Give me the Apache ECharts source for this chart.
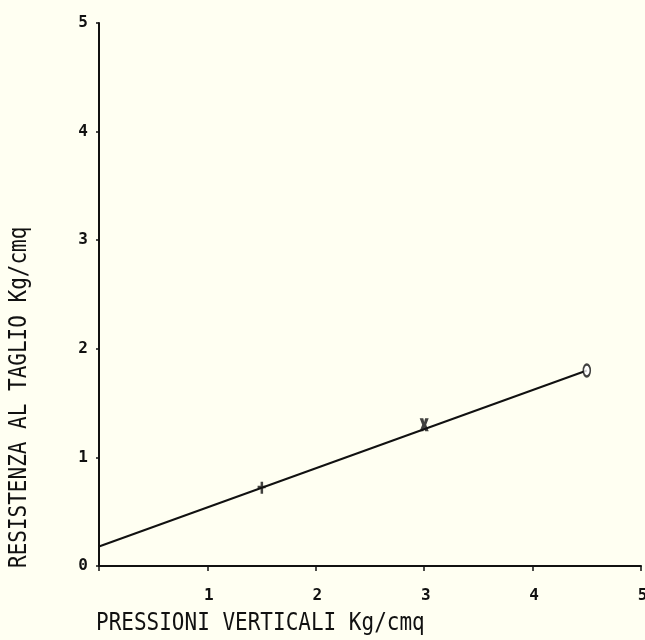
<!DOCTYPE html>
<html>
<head>
<meta charset="utf-8">
<script src="https://cdn.jsdelivr.net/npm/echarts@6/dist/echarts.min.js"></script>
<style>
  html, body { margin: 0; padding: 0; background: #fffff2; }
  #chart { width: 645px; height: 640px; }
</style>
</head>
<body>
<div id="chart"></div>
<script>
// Shear test: measured points and fitted failure envelope
const xTicks = [0, 1, 2, 3, 4, 5];
const yTicks = [0, 1, 2, 3, 4, 5];
const pointPlus = [[1.5, 0.72]];
const pointCross = [[3.0, 1.30]];
const pointCircle = [[4.5, 1.80]];
const fitLine = [[0, 0.18], [4.5, 1.80]];
const xTitle = 'PRESSIONI VERTICALI Kg/cmq';
const yTitle = 'RESISTENZA AL TAGLIO Kg/cmq';

const INK = '#111';
const PAPER = '#fffff2';
const FONT = '"DejaVu Sans Mono", "Liberation Mono", monospace';

// plotter-style marker glyphs
const plusPath = 'path://M3,0 L5.5,0 L5.5,4 L8,4 L8,6.5 L5.5,6.5 L5.5,12 L3,12 L3,6.5 L0,6.5 L0,4 L3,4 Z';
const crossPath = 'path://M0,0 L3.2,0 L4,3.5 L4.8,0 L8,0 L5.8,6 L8,12 L4.8,12 L4,8.5 L3.2,12 L0,12 L2.2,6 Z';

const chart = echarts.init(document.getElementById('chart'));
chart.setOption({
  backgroundColor: PAPER,
  animation: false,
  grid: { left: 99, right: 4, top: 23, bottom: 74, outerBoundsMode: 'none', containLabel: false },
  xAxis: {
    type: 'value', min: 0, max: 5, interval: 1,
    axisLine: { show: true, lineStyle: { color: INK, width: 2 } },
    axisTick: { show: true, inside: false, length: 5, lineStyle: { color: INK, width: 1.5 } },
    splitLine: { show: false },
    axisLabel: {
      margin: 22, color: INK, fontFamily: FONT, fontWeight: 'bold', fontSize: 16,
      padding: [0, 0, 0, 3],
      hideOverlap: false, showMaxLabel: true,
      formatter: v => (v === 0 ? '' : String(v))
    }
  },
  yAxis: {
    type: 'value', min: 0, max: 5, interval: 1,
    axisLine: { show: true, lineStyle: { color: INK, width: 2 } },
    axisTick: { show: true, inside: false, length: 3, lineStyle: { color: INK, width: 1.5 } },
    splitLine: { show: false },
    axisLabel: {
      margin: 11, color: INK, fontFamily: FONT, fontWeight: 'bold', fontSize: 16,
      padding: [0, 0, 10, 0],
      hideOverlap: false, showMaxLabel: true,
      formatter: v => String(v)
    }
  },
  graphic: [
    {
      type: 'text', x: 96, y: 612, scaleY: 1.15,
      style: { text: xTitle, fill: INK, font: '21px ' + FONT, textVerticalAlign: 'top' }
    },
    {
      type: 'text', x: 8, y: 568, rotation: Math.PI / 2, scaleY: 1.15,
      style: { text: yTitle, fill: INK, font: '21px ' + FONT, textVerticalAlign: 'top' }
    }
  ],
  series: [
    {
      type: 'line', data: fitLine, symbol: 'none',
      lineStyle: { color: INK, width: 2 }, z: 2
    },
    {
      type: 'scatter', data: pointPlus, symbol: plusPath, symbolSize: [8, 12],
      itemStyle: { color: INK }, z: 3
    },
    {
      type: 'scatter', data: pointCross, symbol: crossPath, symbolSize: [9, 13],
      itemStyle: { color: INK }, z: 3
    },
    {
      type: 'scatter', data: pointCircle, symbol: 'emptyCircle', symbolSize: [7, 12],
      itemStyle: { color: INK, borderColor: INK, borderWidth: 2 }, z: 3
    }
  ]
});
</script>
</body>
</html>
